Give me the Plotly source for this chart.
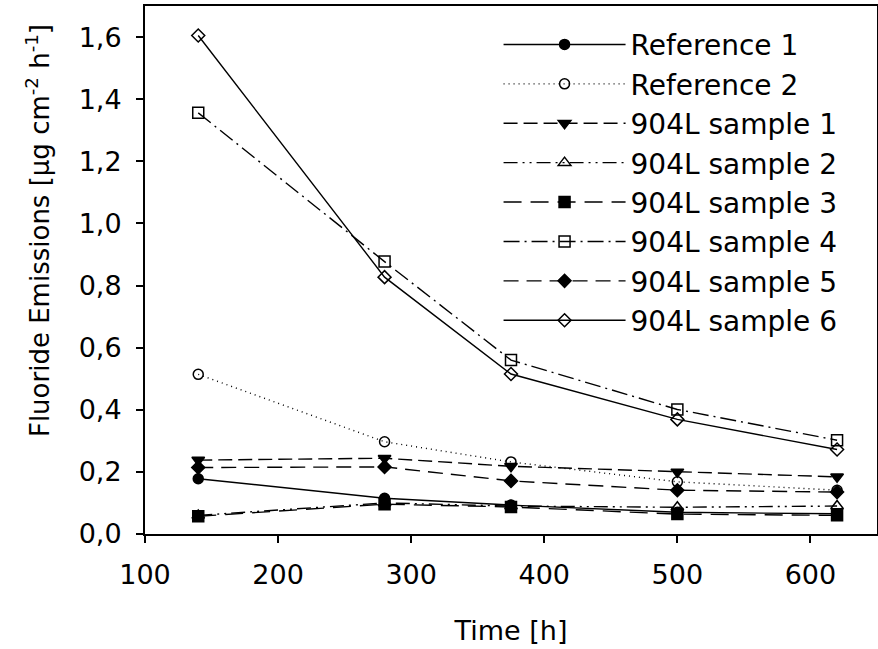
import plotly.graph_objects as go

time_h = [140, 280, 375, 500, 620]

series_names = ["Reference 1", "Reference 2", "904L sample 1", "904L sample 2",
                "904L sample 3", "904L sample 4", "904L sample 5", "904L sample 6"]

reference_1 = [0.178, 0.115, 0.093, 0.070, 0.065]
reference_2 = [0.514, 0.297, 0.232, 0.168, 0.141]
sample_1 = [0.238, 0.244, 0.218, 0.200, 0.184]
sample_2 = [0.060, 0.100, 0.090, 0.086, 0.090]
sample_3 = [0.057, 0.096, 0.087, 0.064, 0.060]
sample_4 = [1.356, 0.877, 0.560, 0.401, 0.302]
sample_5 = [0.214, 0.216, 0.171, 0.141, 0.135]
sample_6 = [1.605, 0.827, 0.515, 0.369, 0.272]

values = [reference_1, reference_2, sample_1, sample_2, sample_3, sample_4, sample_5, sample_6]

styles = [
    dict(dash="solid", symbol="circle", size=10),
    dict(dash="1px,4px", symbol="circle-open", size=10),
    dict(dash="14px,6px", symbol="triangle-down", size=11),
    dict(dash="14px,5px,2px,5px,2px,5px", symbol="triangle-up-open", size=11),
    dict(dash="18px,9px", symbol="square", size=11),
    dict(dash="16px,5px,2px,5px", symbol="square-open", size=11),
    dict(dash="15px,8px", symbol="diamond", size=10),
    dict(dash="solid", symbol="diamond-open", size=10),
]

fig = go.Figure()
for name, vals, st in zip(series_names, values, styles):
    fig.add_trace(go.Scatter(
        x=time_h, y=vals, name=name, mode="lines+markers",
        line=dict(color="black", width=1.4, dash=st["dash"]),
        marker=dict(symbol=st["symbol"], size=st["size"], color="black",
                    line=dict(color="black", width=1.5)),
    ))

font_main = "DejaVu Sans, Verdana, sans-serif"

fig.update_layout(
    width=878, height=649,
    margin=dict(l=145, r=1, t=6, b=115, autoexpand=False),
    paper_bgcolor="white", plot_bgcolor="white",
    separators=",.",
    font=dict(family=font_main, size=27, color="black"),
    showlegend=True,
    legend=dict(x=0.483, y=0.974, xanchor="left", yanchor="top",
                bgcolor="rgba(0,0,0,0)", itemwidth=122,
                font=dict(family=font_main, size=28, color="black")),
    xaxis=dict(range=[100, 650], tickvals=[100, 200, 300, 400, 500, 600],
               ticks="outside", ticklen=7, tickwidth=2, tickcolor="black",
               showline=True, linewidth=2, linecolor="black", mirror=True,
               showgrid=False, zeroline=False, automargin=False,
               tickfont=dict(size=27), ticklabelstandoff=9,
               title=dict(text="Time [h]", font=dict(size=27), standoff=32)),
    yaxis=dict(range=[0, 1.7], tickvals=[0, 0.2, 0.4, 0.6, 0.8, 1.0, 1.2, 1.4, 1.6],
               tickformat=".1f", automargin=False,
               ticks="outside", ticklen=7, tickwidth=2, tickcolor="black",
               showline=True, linewidth=2, linecolor="black", mirror=True,
               showgrid=False, zeroline=False, tickfont=dict(size=27),
               ticklabelstandoff=9),
    annotations=[dict(
        text="Fluoride Emissions [µg cm<sup>-2</sup> h<sup>-1</sup>]",
        xref="paper", yref="paper", x=-0.146, y=0.574,
        xanchor="center", yanchor="middle", textangle=-90, showarrow=False,
        font=dict(family=font_main, size=26, color="black"))],
)

fig.write_html(
    "out.html",
    config={"displayModeBar": False},
    post_script="document.body.style.margin='0';document.body.style.overflow='hidden';",
)
